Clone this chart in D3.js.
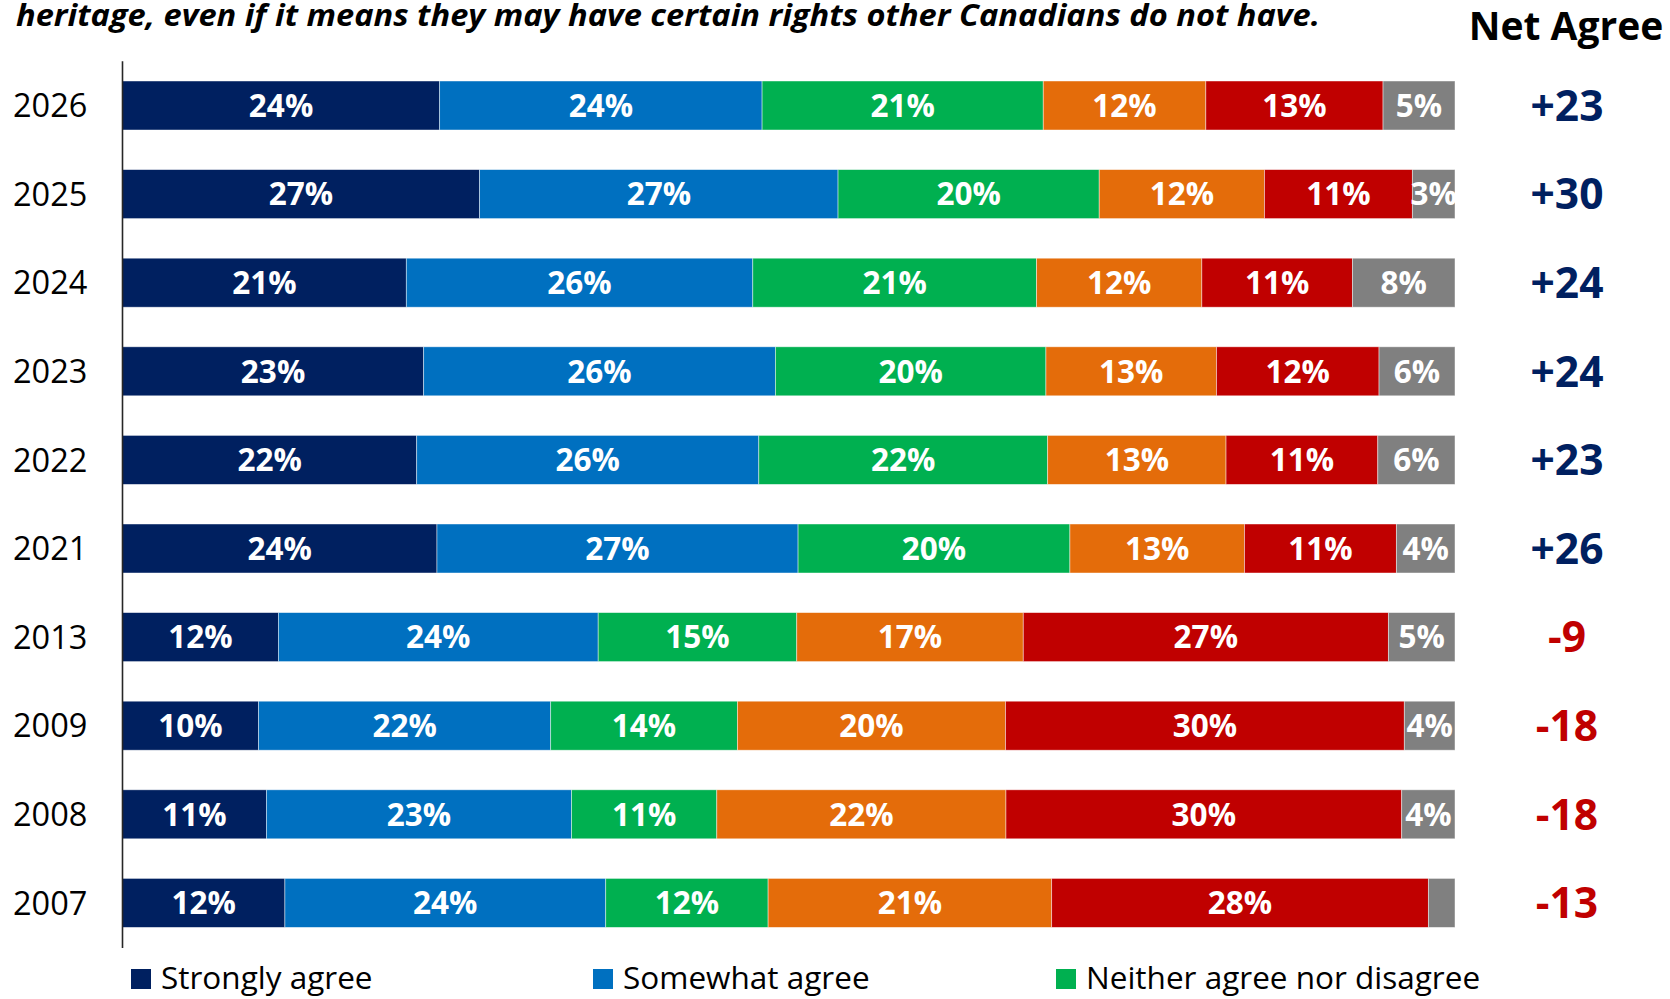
<!DOCTYPE html>
<html><head><meta charset="utf-8">
<script src="https://cdn.jsdelivr.net/npm/d3@7"></script>
<style>
body{margin:0;background:#fff;}
svg{display:block;font-family:"Open Sans","Noto Sans",sans-serif;}
</style>
</head><body>
<svg id="chart" width="1670" height="999"></svg>
<script>
// ---- data ----
const years = ["2026","2025","2024","2023","2022","2021","2013","2009","2008","2007"];
const categories = ["Strongly agree","Somewhat agree","Neither agree nor disagree","Somewhat disagree","Strongly disagree","Don't know"];
const stronglyAgree    = [23.8,26.8,21.3,22.6,22.1,23.6,11.7,10.2,10.8,12.2];
const somewhatAgree    = [24.2,26.9,26.0,26.4,25.7,27.1,24.0,21.9,22.9,24.1];
const neither          = [21.1,19.6,21.3,20.3,21.7,20.4,14.9,14.0,10.9,12.2];
const somewhatDisagree = [12.2,12.4,12.4,12.8,13.4,13.1,17.0,20.1,21.7,21.3];
const stronglyDisagree = [13.3,11.1,11.3,12.2,11.4,11.4,27.4,29.9,29.7,28.3];
const dontKnow         = [5.4,3.2,7.7,5.7,5.8,4.4,5.0,3.8,4.0,2.0];
const netAgree = [23,30,24,24,23,26,-9,-18,-18,-13];
const colors = ["#002060","#0070C0","#00B050","#E46C0A","#C00000","#808080"];
const legendShown = 3;
const titleText = "heritage, even if it means they may have certain rights other Canadians do not have.";
const netTitle = "Net Agree";

// ---- build ----
const seriesArrays = [stronglyAgree, somewhatAgree, neither, somewhatDisagree, stronglyDisagree, dontKnow];
const rows = years.map((y, i) => {
  const o = {year: y};
  categories.forEach((c, k) => o[c] = seriesArrays[k][i]);
  return o;
});

const svg = d3.select("#chart");
const X0 = 122.5, X1 = 1455;
const x = d3.scaleLinear().domain([0, 1]).range([X0, X1]);
const y = d3.scaleBand().domain(years).range([61.2, 947.2]).paddingInner(0.447).paddingOuter(0.2235);

const stack = d3.stack().keys(categories).offset(d3.stackOffsetExpand);
const stacked = stack(rows);

svg.append("defs").append("clipPath").attr("id", "plotclip")
  .append("rect").attr("x", X0).attr("y", 0).attr("width", X1 - X0).attr("height", 999);

const gBars = svg.append("g");
stacked.forEach((s, k) => {
  gBars.append("g").attr("fill", colors[k])
    .selectAll("rect").data(s).join("rect")
    .attr("x", d => x(d[0]))
    .attr("y", d => y(d.data.year))
    .attr("width", d => x(d[1]) - x(d[0]))
    .attr("height", y.bandwidth())
    .attr("stroke", "#ffffff").attr("stroke-opacity", 0.55).attr("stroke-width", 0.8);
});

const gLab = svg.append("g").attr("clip-path", "url(#plotclip)");
stacked.forEach((s, k) => {
  gLab.append("g").selectAll("text").data(s.filter(d => d.data[categories[k]] >= 2.5)).join("text")
    .attr("x", d => (x(d[0]) + x(d[1])) / 2)
    .attr("y", d => y(d.data.year) + y.bandwidth() / 2)
    .attr("dy", "0.36em")
    .attr("text-anchor", "middle")
    .attr("fill", "#fff").attr("font-weight", 700).attr("font-size", 31.5)
    .text(d => Math.round(d.data[categories[k]]) + "%");
});

// axis
const yAxis = d3.axisLeft(y).tickSize(0).tickPadding(0);
const ga = svg.append("g").attr("transform", `translate(${X0},0)`).call(yAxis);
ga.select(".domain").attr("stroke", "#262626").attr("stroke-width", 1.6).attr("d", `M0,61.2V948`);
ga.selectAll(".tick text").attr("x", 13 - X0).attr("text-anchor", "start")
  .attr("font-size", 32.5).attr("font-family", "Open Sans, sans-serif").attr("fill", "#000").attr("dy", "0.36em");

// net agree
svg.append("g").selectAll("text").data(years).join("text")
  .attr("x", 1567)
  .attr("y", d => y(d) + y.bandwidth() / 2)
  .attr("dy", "0.36em")
  .attr("text-anchor", "middle")
  .attr("font-weight", 700).attr("font-size", 42.5)
  .attr("fill", (d, i) => netAgree[i] >= 0 ? "#002060" : "#C00000")
  .text((d, i) => (netAgree[i] > 0 ? "+" : "") + netAgree[i]);

svg.append("text").attr("x", 1566).attr("y", 40).attr("text-anchor", "middle")
  .attr("font-weight", 700).attr("font-size", 39).attr("fill", "#000").text(netTitle);

// title (last visible line)
svg.append("text").attr("x", 16).attr("y", 26)
  .attr("font-weight", 700).attr("font-style", "italic").attr("font-size", 31)
  .attr("textLength", 1304).attr("lengthAdjust", "spacingAndGlyphs")
  .attr("fill", "#000").text(titleText);

// legend
const legX = [131, 593, 1056];
const gLeg = svg.append("g");
categories.slice(0, legendShown).forEach((c, k) => {
  gLeg.append("rect").attr("x", legX[k]).attr("y", 969).attr("width", 20).attr("height", 20).attr("fill", colors[k]);
  gLeg.append("text").attr("x", legX[k] + 30).attr("y", 989).attr("font-size", 31.5).attr("fill", "#000").text(c);
});
</script>
</body></html>
